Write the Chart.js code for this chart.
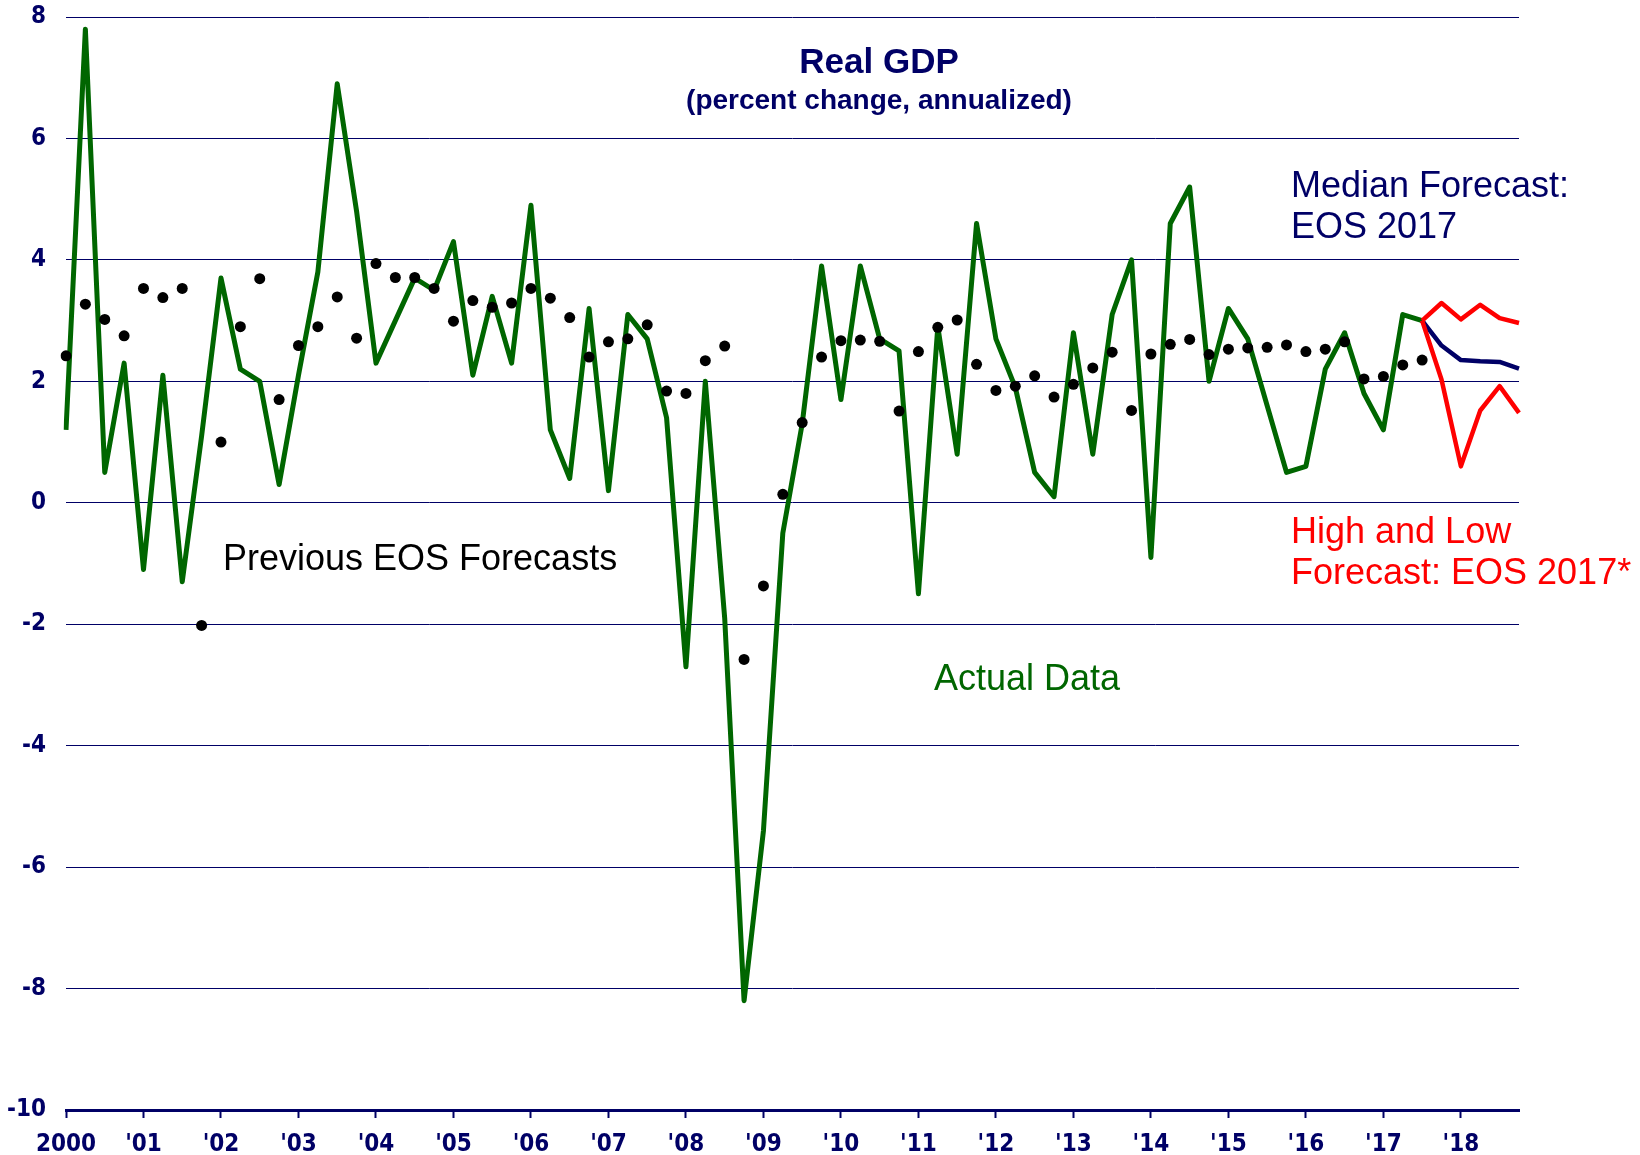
<!DOCTYPE html>
<html>
<head>
<meta charset="utf-8">
<title>Real GDP</title>
<script src="https://cdn.jsdelivr.net/npm/chart.js@4.4.1/dist/chart.umd.min.js"></script>
<style>
  html, body { margin: 0; padding: 0; background: #fff; }
  #chartGdp { display: block; }
</style>
</head>
<body>
<canvas id="chartGdp" width="1640" height="1155"></canvas>
<script>
// Year labels shown under the x axis (one tick per year, four quarters each)
const yearLabels = ['2000', "'01", "'02", "'03", "'04", "'05", "'06", "'07", "'08", "'09",
  "'10", "'11", "'12", "'13", "'14", "'15", "'16", "'17", "'18"];

// Quarter categories, 2000 Q1 to 2018 Q4
const quarters = [];
yearLabels.forEach(y => ['Q1', 'Q2', 'Q3', 'Q4'].forEach(q => quarters.push(y + ' ' + q)));

// Actual real GDP growth, 2000 Q1 to 2017 Q3
const actualData = [
  1.2, 7.8, 0.5, 2.3,
  -1.1, 2.1, -1.3, 1.1,
  3.7, 2.2, 2.0, 0.3,
  2.1, 3.8, 6.9, 4.8,
  2.3, 3.0, 3.7, 3.5,
  4.3, 2.1, 3.4, 2.3,
  4.9, 1.2, 0.4, 3.2,
  0.2, 3.1, 2.7, 1.4,
  -2.7, 2.0, -1.9, -8.2,
  -5.4, -0.5, 1.3, 3.9,
  1.7, 3.9, 2.7, 2.5,
  -1.5, 2.9, 0.8, 4.6,
  2.7, 1.9, 0.5, 0.1,
  2.8, 0.8, 3.1, 4.0,
  -0.9, 4.6, 5.2, 2.0,
  3.2, 2.7, 1.6, 0.5,
  0.6, 2.2, 2.8, 1.8,
  1.2, 3.1, 3.0
];

// Previous EOS forecasts (black dots), 2000 Q1 to 2017 Q3
const previousForecasts = [
  2.42, 3.27, 3.02, 2.75,
  3.53, 3.38, 3.53, -2.02,
  1.00, 2.90, 3.69, 1.70,
  2.59, 2.90, 3.39, 2.71,
  3.94, 3.71, 3.71, 3.53,
  2.99, 3.33, 3.22, 3.29,
  3.53, 3.37, 3.05, 2.40,
  2.65, 2.70, 2.93, 1.84,
  1.80, 2.34, 2.58, -2.58,
  -1.37, 0.14, 1.32, 2.40,
  2.67, 2.68, 2.66, 1.51,
  2.49, 2.89, 3.01, 2.28,
  1.85, 1.92, 2.09, 1.74,
  1.95, 2.22, 2.48, 1.52,
  2.45, 2.61, 2.69, 2.44,
  2.53, 2.55, 2.56, 2.60,
  2.49, 2.53, 2.65, 2.04,
  2.08, 2.27, 2.35
];

// EOS 2017 forecasts, starting at the last actual quarter (2017 Q3) to 2018 Q4
const forecastStart = 70;
const medianForecast = [3.0, 2.59, 2.35, 2.33, 2.32, 2.21];
const highForecast = [3.0, 3.29, 3.02, 3.26, 3.04, 2.96];
const lowForecast = [3.0, 2.03, 0.60, 1.52, 1.92, 1.48];

const navy = '#000066';
const green = '#006600';
const red = '#ff0000';
const tickFont = "'Liberation Sans Narrow', 'DejaVu Sans Condensed', 'Liberation Sans', sans-serif";
const textFont = "'Liberation Sans', Arial, sans-serif";

// Puts the forecast values at the right quarters
const fromQuarter = (values, start) => Array(start).fill(null).concat(values);

// Draws the title and the text notes inside the plot
const notesPlugin = {
  id: 'notes',
  afterDatasetsDraw(chart) {
    const c = chart.ctx;
    c.save();
    c.textBaseline = 'middle';

    c.textAlign = 'center';
    c.fillStyle = navy;
    c.font = 'bold 35px ' + textFont;
    c.fillText('Real GDP', 879, 63);
    c.font = 'bold 28px ' + textFont;
    c.fillText('(percent change, annualized)', 879, 101);

    c.textAlign = 'left';
    c.font = '36px ' + textFont;
    c.fillStyle = navy;
    c.fillText('Median Forecast:', 1291, 187);
    c.fillText('EOS 2017', 1291, 228);

    c.fillStyle = red;
    c.fillText('High and Low', 1291, 533);
    c.fillText('Forecast: EOS 2017*', 1291, 574);

    c.fillStyle = '#000000';
    c.fillText('Previous EOS Forecasts', 223, 560);

    c.fillStyle = green;
    c.fillText('Actual Data', 934, 680);
    c.restore();
  }
};

const ctx = document.getElementById('chartGdp').getContext('2d');

new Chart(ctx, {
  type: 'line',
  data: {
    labels: quarters,
    datasets: [
      {
        label: 'Previous EOS Forecasts',
        data: previousForecasts,
        showLine: false,
        pointRadius: 5.5,
        pointBorderWidth: 0,
        pointBackgroundColor: '#000000'
      },
      {
        label: 'High Forecast',
        data: fromQuarter(highForecast, forecastStart),
        borderColor: red,
        borderWidth: 4.5,
        borderJoinStyle: 'round',
        pointRadius: 0
      },
      {
        label: 'Low Forecast',
        data: fromQuarter(lowForecast, forecastStart),
        borderColor: red,
        borderWidth: 4.5,
        borderJoinStyle: 'round',
        pointRadius: 0
      },
      {
        label: 'Median Forecast',
        data: fromQuarter(medianForecast, forecastStart),
        borderColor: navy,
        borderWidth: 4.5,
        borderJoinStyle: 'round',
        pointRadius: 0
      },
      {
        label: 'Actual Data',
        data: actualData,
        borderColor: green,
        borderWidth: 5,
        borderJoinStyle: 'round',
        pointRadius: 0
      }
    ]
  },
  options: {
    responsive: false,
    animation: false,
    devicePixelRatio: 1,
    layout: { padding: { top: 17, right: 121, bottom: 0, left: 0 } },
    plugins: {
      legend: { display: false },
      tooltip: { enabled: false }
    },
    scales: {
      x: {
        offset: false,
        grid: {
          drawOnChartArea: false,
          drawTicks: true,
          tickLength: 8,
          tickWidth: 2,
          tickColor: c => (c.index % 4 === 0 ? navy : 'rgba(0,0,0,0)')
        },
        border: { color: navy, width: 3 },
        ticks: {
          autoSkip: false,
          maxRotation: 0,
          minRotation: 0,
          color: navy,
          padding: 12,
          font: { family: tickFont, size: 24, weight: 'bold' },
          callback: (value, index) => (index % 4 === 0 ? yearLabels[index / 4] : '')
        },
        afterFit: scale => { scale.height = 45; }
      },
      y: {
        min: -10,
        max: 8,
        grid: { color: navy, lineWidth: 1, drawTicks: false },
        border: { display: false },
        ticks: {
          stepSize: 2,
          color: navy,
          padding: 20,
          font: { family: tickFont, size: 24, weight: 'bold' }
        },
        // fixed width, and no extra room above/below for the tick labels
        afterFit: scale => {
          scale.width = 66;
          scale.paddingTop = 0;
          scale.paddingBottom = 0;
        }
      }
    }
  },
  plugins: [notesPlugin]
});
</script>
</body>
</html>
